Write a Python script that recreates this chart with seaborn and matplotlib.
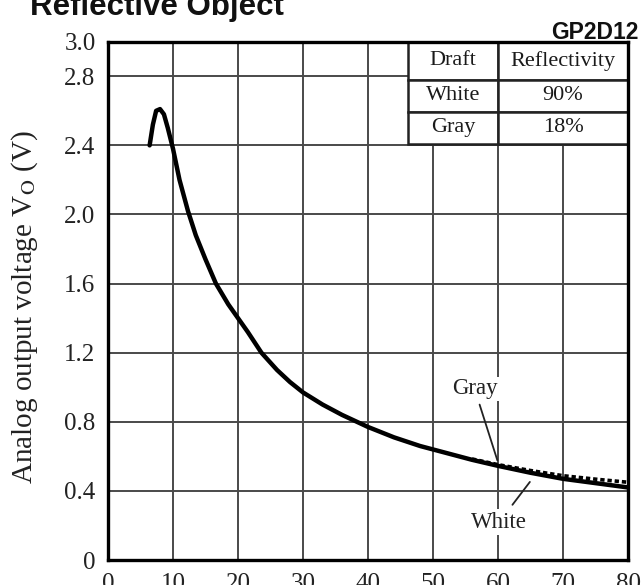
import matplotlib
matplotlib.use("Agg")
import matplotlib.pyplot as plt
import seaborn as sns
import pandas as pd

# Output voltage vs. distance for the two reflective drafts
distance_cm = [6.4, 6.9, 7.4, 8.0, 8.6, 9.2, 10.0, 11.0, 12.3, 13.5, 15.0, 16.6,
               18.5, 20.0, 21.5, 23.6, 26.0, 28.0, 30.0, 33.0, 36.0, 40.0, 44.0,
               48.0, 52.0, 56.0, 60.0, 65.0, 70.0, 75.0, 80.0]
white_v = [2.40, 2.52, 2.60, 2.61, 2.58, 2.50, 2.38, 2.20, 2.02, 1.88, 1.74, 1.60,
           1.48, 1.40, 1.32, 1.20, 1.10, 1.03, 0.97, 0.90, 0.84, 0.77, 0.71,
           0.66, 0.62, 0.58, 0.545, 0.505, 0.47, 0.445, 0.42]
gray_v = [2.40, 2.52, 2.60, 2.61, 2.58, 2.50, 2.38, 2.20, 2.02, 1.88, 1.74, 1.60,
          1.48, 1.40, 1.32, 1.20, 1.10, 1.03, 0.97, 0.90, 0.84, 0.77, 0.71,
          0.66, 0.62, 0.585, 0.552, 0.518, 0.488, 0.468, 0.45]

drafts = ["White", "Gray"]
reflectivity = ["90%", "18%"]

x_ticks = [0, 10, 20, 30, 40, 50, 60, 70, 80]
y_ticks = [0, 0.4, 0.8, 1.2, 1.6, 2.0, 2.4, 2.8, 3.0]
y_tick_labels = ["0", "0.4", "0.8", "1.2", "1.6", "2.0", "2.4", "2.8", "3.0"]

df = pd.DataFrame({
    "distance": distance_cm * 2,
    "voltage": white_v + gray_v,
    "draft": ["White"] * len(distance_cm) + ["Gray"] * len(distance_cm),
})

sns.set_theme(style="white")
plt.rcParams["font.family"] = ["Liberation Serif", "DejaVu Serif"]
plt.rcParams["mathtext.fontset"] = "stix"

fig = plt.figure(figsize=(6.43, 5.85), dpi=100)
ax = fig.add_axes([0.168, 0.0427, 0.8087, 0.886])

sns.lineplot(data=df[df.draft == "White"], x="distance", y="voltage",
             color="black", lw=3.2, ax=ax, legend=False, zorder=4)
sns.lineplot(data=df[(df.draft == "Gray") & (df.distance >= 56)], x="distance",
             y="voltage", color="black", lw=2.6, ax=ax, legend=False,
             zorder=4, linestyle=(0, (1.2, 0.8)))

ax.set_xlim(0, 80)
ax.set_ylim(0, 3.0)
ax.set_xticks(x_ticks)
ax.set_yticks(y_ticks)
ax.set_yticklabels(y_tick_labels)
ax.set_xlabel("")
ax.set_ylabel("Analog output voltage V$_{\\rm O}$ (V)", fontsize=21,
              color="#222222")
ax.yaxis.set_label_coords(-0.13, 0.488)
ax.tick_params(axis="both", length=0, labelsize=18, colors="#222222")
ax.tick_params(axis="x", pad=9)
ax.tick_params(axis="y", pad=9)

# grid at every x tick and every y tick except the top edge
for xv in x_ticks[1:-1]:
    ax.axvline(xv, color="#4a4a4a", lw=1.4, zorder=1)
for yv in y_ticks[1:-1]:
    ax.axhline(yv, color="#4a4a4a", lw=1.4, zorder=1)

for s in ax.spines.values():
    s.set_color("black")
    s.set_linewidth(2.4)
    s.set_zorder(6)

# draft / reflectivity table in the upper-right corner
tbl = ax.table(cellText=[[d, r] for d, r in zip(drafts, reflectivity)],
               colLabels=["Draft", "Reflectivity"], cellLoc="center",
               colWidths=[90, 130], bbox=[0.577, 0.803, 0.423, 0.197])
tbl.auto_set_font_size(False)
tbl.set_fontsize(16)
tbl.set_zorder(5)
for (r, c), cell in tbl.get_celld().items():
    cell.set_linewidth(1.8)
    cell.set_edgecolor("#222222")
    cell.set_height(38 if r == 0 else 32)
    cell.get_text().set_color("#1a1a1a")

ax.annotate("Gray", xy=(59.9, 0.577), xytext=(56.4, 0.99), fontsize=16.5,
            ha="center", va="center", color="#222222",
            bbox=dict(boxstyle="square,pad=0.05", fc="white", ec="none"),
            arrowprops=dict(arrowstyle="-", lw=1.3, color="#222222",
                            shrinkA=3, shrinkB=0), zorder=5)
ax.annotate("White", xy=(64.9, 0.452), xytext=(60.2, 0.22), fontsize=16.5,
            ha="center", va="center", color="#222222",
            bbox=dict(boxstyle="square,pad=0.1", fc="white", ec="none"),
            arrowprops=dict(arrowstyle="-", lw=1.3, color="#222222",
                            shrinkA=4, shrinkB=0), zorder=5)

fig.text(30 / 643, 1 - 15 / 585, "Reflective Object", fontsize=22.5,
         fontweight="bold", family="Liberation Sans", va="baseline",
         ha="left", color="#111111")
fig.text(638 / 643, 1 - 39 / 585, "GP2D12", fontsize=16.5, fontweight="bold",
         family="Liberation Sans", va="baseline", ha="right", color="#111111")

fig.savefig("out.png", dpi=100)
